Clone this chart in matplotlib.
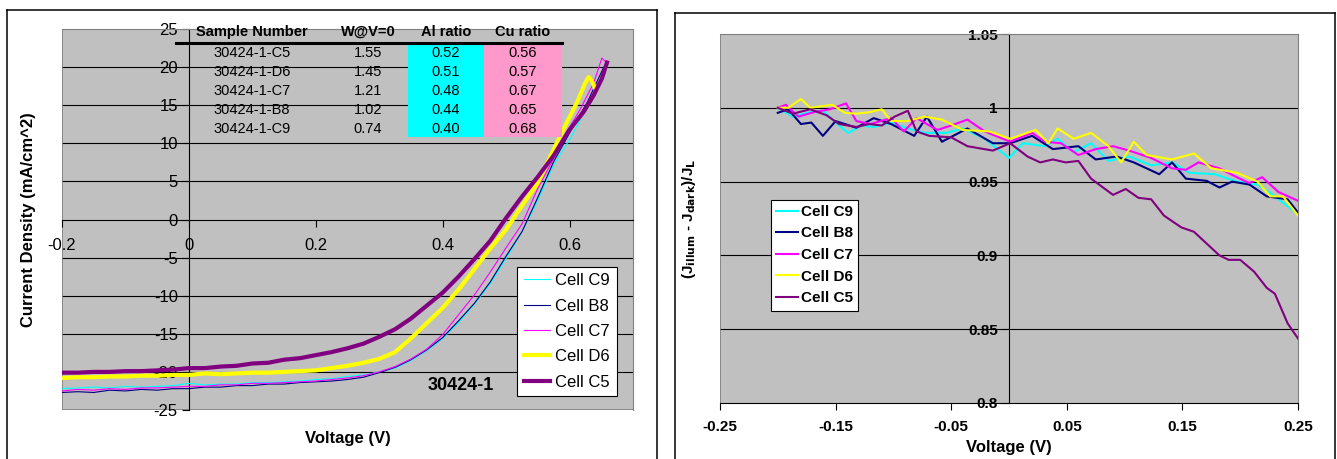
import matplotlib

matplotlib.use("Agg")
import matplotlib.pyplot as plt
from matplotlib.lines import Line2D
from matplotlib.patches import Rectangle

W, H = 1337, 459

plt.rcParams["font.family"] = ["Liberation Sans", "DejaVu Sans"]
plt.rcParams["axes.unicode_minus"] = False

# ---- left panel: J-V curves -------------------------------------------------
v_grid = [-0.2, -0.175, -0.15, -0.125, -0.1, -0.075, -0.05, -0.025, 0.0, 0.025,
          0.05, 0.075, 0.1, 0.125, 0.15, 0.175, 0.2, 0.225, 0.25, 0.275,
          0.3, 0.325, 0.35, 0.375, 0.4, 0.425, 0.45, 0.475, 0.5, 0.525, 0.55, 0.575]

v_c9 = v_grid + [0.601, 0.622, 0.64, 0.655]
j_c9 = [-22.2, -22.1, -22.0, -22.1, -21.9, -22.0, -21.9, -21.8, -21.5, -21.7,
        -21.6, -21.6, -21.4, -21.4, -21.3, -21.2, -21.0, -20.9, -20.6, -20.4,
        -20.0, -19.5, -18.5, -17.2, -15.6, -13.5, -11.1, -8.4, -5.1, -1.6, 2.5, 7.2,
        10.6, 13.9, 16.5, 19.8]

v_b8 = v_grid + [0.601, 0.628, 0.654]
j_b8 = [-22.7, -22.6, -22.7, -22.4, -22.5, -22.3, -22.4, -22.2, -22.2, -22.0,
        -22.0, -21.8, -21.8, -21.6, -21.6, -21.4, -21.3, -21.2, -21.0, -20.7,
        -20.1, -19.4, -18.4, -17.1, -15.5, -13.3, -11.0, -8.2, -4.8, -1.6, 2.9, 7.6,
        11.5, 15.4, 20.0]

v_c7 = v_grid + [0.596, 0.617, 0.638, 0.651, 0.659]
j_c7 = [-22.5, -22.3, -22.4, -22.2, -22.3, -22.1, -22.1, -22.0, -21.9, -21.9,
        -21.7, -21.7, -21.5, -21.5, -21.4, -21.3, -21.2, -21.0, -20.8, -20.5,
        -20.0, -19.3, -18.3, -17.0, -15.1, -12.5, -9.9, -6.9, -3.7, -0.6, 4.1, 8.0,
        11.5, 14.5, 17.9, 21.2, 20.5]

v_d6 = v_grid + [0.596, 0.612, 0.624, 0.63, 0.635, 0.64]
j_d6 = [-20.8, -20.7, -20.7, -20.6, -20.6, -20.5, -20.5, -20.4, -20.4, -20.2,
        -20.3, -20.2, -20.1, -20.1, -20.0, -19.9, -19.8, -19.5, -19.2, -18.8,
        -18.3, -17.4, -15.6, -13.6, -11.6, -9.2, -6.5, -3.8, -1.3, 1.8, 4.8, 9.2,
        12.8, 15.4, 17.8, 18.7, 18.2, 17.3]

v_c5 = v_grid + [0.6, 0.622, 0.638, 0.651, 0.659]
j_c5 = [-20.1, -20.1, -20.0, -20.0, -19.9, -19.9, -19.8, -19.7, -19.5, -19.5,
        -19.3, -19.2, -18.9, -18.8, -18.4, -18.2, -17.8, -17.4, -16.9, -16.3,
        -15.4, -14.4, -13.0, -11.3, -9.6, -7.5, -5.2, -2.8, 0.2, 3.0, 5.6, 8.4,
        11.8, 14.1, 16.3, 18.5, 20.6]

left_series = [
    ("Cell C9", v_c9, j_c9, "#00FFFF", 0.8),
    ("Cell B8", v_b8, j_b8, "#000080", 0.8),
    ("Cell C7", v_c7, j_c7, "#FF00FF", 0.8),
    ("Cell D6", v_d6, j_d6, "#FFFF00", 3.0),
    ("Cell C5", v_c5, j_c5, "#800080", 3.0),
]

table_header = ["Sample Number", "W@V=0", "Al ratio", "Cu ratio"]
sample_names = ["30424-1-C5", "30424-1-D6", "30424-1-C7", "30424-1-B8", "30424-1-C9"]
w_at_v0 = ["1.55", "1.45", "1.21", "1.02", "0.74"]
al_ratio = ["0.52", "0.51", "0.48", "0.44", "0.40"]
cu_ratio = ["0.56", "0.57", "0.67", "0.65", "0.68"]

# ---- right panel: (J_illum - J_dark)/J_L ------------------------------------
rv_c9 = [-0.2, -0.187, -0.172, -0.161, -0.147, -0.139, -0.128, -0.117, -0.102, -0.0875,
         -0.073, -0.054, -0.04, -0.021, 0.0, 0.012, 0.031, 0.042, 0.056, 0.071,
         0.086, 0.104, 0.123, 0.141, 0.156, 0.178, 0.197, 0.215, 0.23, 0.25]
rj_c9 = [1.0, 0.994, 0.997, 0.998, 0.988, 0.983, 0.988, 0.987, 0.990, 0.986,
         0.983, 0.983, 0.986, 0.979, 0.966, 0.976, 0.974, 0.979, 0.970, 0.976,
         0.964, 0.967, 0.961, 0.963, 0.956, 0.955, 0.950, 0.948, 0.940, 0.928]

rv_b8 = [-0.2, -0.191, -0.18, -0.171, -0.161, -0.15, -0.132, -0.117, -0.102, -0.082,
         -0.071, -0.058, -0.036, -0.014, 0.001, 0.02, 0.038, 0.06, 0.075, 0.093,
         0.108, 0.13, 0.141, 0.153, 0.171, 0.182, 0.193, 0.208, 0.223, 0.241, 0.25]
rj_b8 = [0.9966, 0.999, 0.989, 0.990, 0.981, 0.991, 0.9865, 0.993, 0.989, 0.981,
         0.994, 0.977, 0.986, 0.976, 0.976, 0.981, 0.972, 0.974, 0.965, 0.967,
         0.963, 0.955, 0.963, 0.952, 0.9505, 0.946, 0.950, 0.948, 0.940, 0.938, 0.929]

rv_c7 = [-0.2, -0.193, -0.182, -0.169, -0.155, -0.141, -0.132, -0.12, -0.102, -0.091,
         -0.08, -0.062, -0.05, -0.036, -0.021, 0.001, 0.02, 0.031, 0.045, 0.06,
         0.075, 0.09, 0.104, 0.123, 0.141, 0.153, 0.164, 0.182, 0.197, 0.208, 0.219,
         0.233, 0.25]
rj_c7 = [1.0, 1.002, 0.994, 0.997, 0.999, 1.003, 0.991, 0.989, 0.993, 0.984,
         0.993, 0.985, 0.988, 0.992, 0.984, 0.977, 0.983, 0.977, 0.976, 0.968,
         0.972, 0.974, 0.971, 0.966, 0.959, 0.958, 0.963, 0.959, 0.953, 0.949, 0.953,
         0.943, 0.937]

rv_d6 = [-0.2, -0.191, -0.18, -0.172, -0.153, -0.142, -0.132, -0.121, -0.11, -0.102,
         -0.088, -0.073, -0.058, -0.04, -0.017, 0.001, 0.023, 0.034, 0.042, 0.056,
         0.071, 0.086, 0.097, 0.108, 0.119, 0.141, 0.16, 0.175, 0.197, 0.215,
         0.226, 0.237, 0.25]
rj_d6 = [1.0, 1.0, 1.006, 1.0, 1.002, 0.9966, 0.996, 0.997, 0.999, 0.991,
         0.991, 0.994, 0.992, 0.985, 0.984, 0.979, 0.985, 0.976, 0.986, 0.979,
         0.983, 0.974, 0.963, 0.977, 0.968, 0.965, 0.969, 0.959, 0.956, 0.950,
         0.940, 0.940, 0.927]

rv_c5 = [-0.2, -0.187, -0.172, -0.158, -0.147, -0.132, -0.121, -0.11, -0.099, -0.0875,
         -0.08, -0.069, -0.05, -0.036, -0.014, 0.001, 0.016, 0.027, 0.038, 0.049,
         0.06, 0.071, 0.09, 0.101, 0.112, 0.123, 0.134, 0.149, 0.16, 0.171,
         0.182, 0.19, 0.2, 0.212, 0.223, 0.23, 0.241, 0.25]
rj_c5 = [1.0, 0.996, 0.999, 0.995, 0.989, 0.987, 0.989, 0.988, 0.994, 0.998,
         0.984, 0.981, 0.980, 0.974, 0.971, 0.976, 0.967, 0.963, 0.965, 0.963,
         0.964, 0.952, 0.941, 0.945, 0.939, 0.938, 0.927, 0.919, 0.916, 0.908,
         0.900, 0.897, 0.897, 0.889, 0.878, 0.874, 0.854, 0.8437]

right_series = [
    ("Cell C9", rv_c9, rj_c9, "#00FFFF"),
    ("Cell B8", rv_b8, rj_b8, "#000080"),
    ("Cell C7", rv_c7, rj_c7, "#FF00FF"),
    ("Cell D6", rv_d6, rj_d6, "#FFFF00"),
    ("Cell C5", rv_c5, rj_c5, "#800080"),
]


def fx(px):
    return px / W


def fy(py):
    return 1 - py / H


fig = plt.figure(figsize=(W / 100, H / 100), dpi=100)
fig.patch.set_facecolor("white")

# outer panel frames
for xs, ys in [([7, 7], [470, 10]), ([7, 657], [10, 10]), ([657, 657], [10, 470]),
               ([675, 675], [470, 13]), ([675, 1335], [13, 13]), ([1335, 1335], [13, 470])]:
    fig.add_artist(Line2D([fx(x) for x in xs], [fy(y) for y in ys], color="black", lw=1.1))

GRAY = "#C0C0C0"
FRAME = "#808080"

# ---------------- left axes ----------------
ax1 = fig.add_axes([fx(62), fy(410), fx(633) - fx(62), fy(29) - fy(410)])
ax1.set_facecolor(GRAY)
ax1.set_xlim(-0.2, 0.7)
ax1.set_ylim(-25, 25)
for y in [-20, -15, -10, -5, 5, 10, 15, 20]:
    ax1.axhline(y, color="black", lw=0.8, zorder=1)
ax1.spines["left"].set_position(("data", 0))
ax1.spines["bottom"].set_position(("data", 0))
for s in ["left", "bottom"]:
    ax1.spines[s].set_color("black")
    ax1.spines[s].set_linewidth(0.8)
for s in ["top", "right"]:
    ax1.spines[s].set_color(FRAME)
ax1.axhline(-25, color=FRAME, lw=1.2, zorder=1)
ax1.axvline(-0.2, color=FRAME, lw=1.2, zorder=1)

for label, v, j, c, lw in left_series:
    ax1.plot(v, j, color=c, lw=lw, label=label, zorder=3, solid_joinstyle="round")

ax1.set_xticks([-0.2, 0, 0.2, 0.4, 0.6])
ax1.set_xticklabels(["-0.2", "0", "0.2", "0.4", "0.6"])
ax1.set_yticks(range(-25, 26, 5))
ax1.tick_params(axis="both", direction="out", length=5, width=0.8, labelsize=12, pad=3)
ax1.tick_params(axis="x", pad=8)

ax1.set_ylabel("Current Density (mA/cm^2)", fontsize=12, fontweight="bold")
ax1.yaxis.set_label_coords(-0.045, 0.5)
ax1.set_xlabel("Voltage (V)", fontsize=12, fontweight="bold")
ax1.xaxis.set_label_coords(0.5, -0.055)

leg1 = ax1.legend(loc="lower left", bbox_to_anchor=(0.797, 0.036), fontsize=12,
                  frameon=True, fancybox=False, framealpha=1, edgecolor="black",
                  handlelength=1.6, handletextpad=0.3, labelspacing=0.62,
                  borderpad=0.4, borderaxespad=0)
leg1.get_frame().set_linewidth(0.8)
leg1.set_zorder(5)

ax1.text(fx(461), fy(385), "30424-1", transform=fig.transFigure, fontsize=13,
         fontweight="bold", ha="center", va="center", zorder=4)

# data table in upper part of left panel
fig.add_artist(Rectangle((fx(408), fy(137)), fx(484) - fx(408), fy(43) - fy(137),
                         transform=fig.transFigure, facecolor="#00FFFF", edgecolor="none",
                         zorder=2))
fig.add_artist(Rectangle((fx(484), fy(137)), fx(562) - fx(484), fy(43) - fy(137),
                         transform=fig.transFigure, facecolor="#FF99CC", edgecolor="none",
                         zorder=2))
fig.add_artist(Line2D([fx(176), fx(562)], [fy(42.5), fy(42.5)], color="black", lw=2.2,
                      zorder=3))
col_x = [252, 368, 446, 523]
for cx, txt in zip(col_x, table_header):
    fig.text(fx(cx), fy(32), txt, fontsize=10.5, fontweight="bold", ha="center",
             va="center", zorder=4)
row_y = [52.7, 71.7, 90.7, 110, 129]
for i, ry in enumerate(row_y):
    for cx, txt in zip(col_x, [sample_names[i], w_at_v0[i], al_ratio[i], cu_ratio[i]]):
        fig.text(fx(cx), fy(ry), txt, fontsize=10.5, ha="center", va="center", zorder=4)

# ---------------- right axes ----------------
ax2 = fig.add_axes([fx(720), fy(403), fx(1298) - fx(720), fy(34) - fy(403)])
ax2.set_facecolor(GRAY)
ax2.set_xlim(-0.25, 0.25)
ax2.set_ylim(0.8, 1.05)
for y in [0.85, 0.9, 0.95, 1.0]:
    ax2.axhline(y, color="black", lw=0.8, zorder=1)
ax2.spines["left"].set_position(("data", 0))
ax2.spines["left"].set_color("black")
ax2.spines["left"].set_linewidth(0.8)
ax2.spines["bottom"].set_color("black")
ax2.spines["bottom"].set_linewidth(0.8)
for s in ["top", "right"]:
    ax2.spines[s].set_color(FRAME)
ax2.axvline(-0.25, color=FRAME, lw=1.2, zorder=1)

for label, v, j, c in right_series:
    ax2.plot(v, j, color=c, lw=1.5, label=label, zorder=3, solid_joinstyle="round")

ax2.set_xticks([-0.25, -0.15, -0.05, 0.05, 0.15, 0.25])
ax2.set_xticklabels(["-0.25", "-0.15", "-0.05", "0.05", "0.15", "0.25"])
ax2.set_yticks([0.8, 0.85, 0.9, 0.95, 1.0, 1.05])
ax2.set_yticklabels(["0.8", "0.85", "0.9", "0.95", "1", "1.05"])
ax2.tick_params(axis="both", direction="out", length=5, width=0.8, labelsize=11, pad=3)
for t in ax2.get_xticklabels() + ax2.get_yticklabels():
    t.set_fontweight("bold")
ax2.tick_params(axis="x", pad=7)

ax2.set_ylabel(r"(J$_{\mathbf{illum}}$ - J$_{\mathbf{dark}}$)/J$_{\mathbf{L}}$",
               fontsize=11, fontweight="bold")
ax2.yaxis.set_label_coords(-0.038, 0.5)
ax2.set_xlabel("Voltage (V)", fontsize=12, fontweight="bold")
ax2.xaxis.set_label_coords(0.5, -0.1)

leg2 = ax2.legend(loc="lower left", bbox_to_anchor=(0.088, 0.25),
                  prop={"size": 11, "weight": "bold"}, frameon=True, fancybox=False,
                  framealpha=1, edgecolor="black", handlelength=1.4, handletextpad=0.2,
                  labelspacing=0.5, borderpad=0.35, borderaxespad=0)
leg2.get_frame().set_linewidth(0.8)

fig.savefig("out.png", dpi=100)
